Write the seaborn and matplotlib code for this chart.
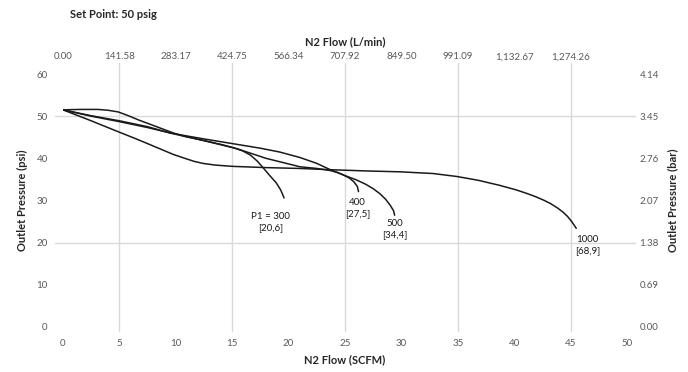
import pandas as pd
import matplotlib
matplotlib.use('Agg')
import matplotlib.pyplot as plt
import seaborn as sns

# DATA
flow_300 = [0, 1.5, 3.1, 4.0, 4.9, 5.8, 6.7, 7.8, 8.8, 9.8, 10.8, 12.0, 13.0, 14.0, 15.0,
            15.9, 16.6, 17.2, 17.7, 18.3, 18.9, 19.3, 19.6]
pres_300 = [51.5, 51.6, 51.6, 51.4, 51.0, 50.1, 49.1, 48.0, 47.0, 46.0, 45.2, 44.5, 43.9, 43.3, 42.6,
            41.8, 40.8, 39.4, 37.9, 36.0, 34.2, 32.5, 30.6]

flow_400 = [0, 2.5, 5, 7.5, 10, 12.5, 15.4, 18, 21, 22.5, 23.7, 24.4, 24.9, 25.4, 25.8, 26.1, 26.2]
pres_400 = [51.5, 50.0, 48.7, 47.3, 45.7, 44.2, 42.3, 40.0, 38.0, 37.6, 37.1, 36.6, 36.0, 35.3, 34.4,
            33.3, 32.1]

flow_500 = [0, 2.5, 5, 7.5, 9.5, 12.5, 15, 17.5, 19.2, 21, 22.5, 23.7, 25, 26.0, 26.8, 27.5,
            28.1, 28.6, 29.0, 29.3, 29.4]
pres_500 = [51.5, 50.1, 48.9, 47.5, 46.0, 44.6, 43.5, 42.4, 41.5, 40.2, 38.8, 37.3, 35.9, 34.9, 33.9,
            32.8, 31.6, 30.3, 28.9, 27.6, 26.5]

flow_1000 = [0, 2.5, 4.9, 6.5, 7.4, 8.2, 9.0, 9.8, 10.8, 11.6, 12.4, 13.5, 15, 18, 21, 23.7, 27,
             29.9, 32.8, 34.9, 36.8, 38.7, 40.2, 41.2, 41.9, 42.6, 43.2, 43.8, 44.3, 44.7, 45.1,
             45.5]
pres_1000 = [51.5, 48.9, 46.3, 44.6, 43.6, 42.7, 41.8, 40.9, 40.0, 39.3, 38.8, 38.4, 38.1, 37.8, 37.6,
             37.3, 37.0, 36.8, 36.4, 35.7, 34.8, 33.6, 32.5, 31.6, 30.9, 30.1, 29.3, 28.3, 27.3,
             26.3, 25.0, 23.4]

curve_names = ['300', '400', '500', '1000']
curve_labels = ['P1 = 300\n[20,6]', '400\n[27,5]', '500\n[34,4]', '1000\n[68,9]']
label_x = [18.4, 26.1, 29.4, 46.5]
label_y = [25.0, 28.2, 23.2, 19.4]

x_ticks = [0, 5, 10, 15, 20, 25, 30, 35, 40, 45, 50]
y_ticks = [0, 10, 20, 30, 40, 50, 60]
top_labels = ['0.00', '141.58', '283.17', '424.75', '566.34', '707.92', '849.50', '991.09',
              '1,132.67', '1,274.26']
right_labels = ['0.00', '0.69', '1.38', '2.07', '2.76', '3.45', '4.14']
v_grid = [5, 15, 25, 35, 45]
h_grid = [20, 50]

SCFM_TO_LPM = 28.3168
PSI_TO_BAR = 0.0689476

rows = []
for name, xs, ys in zip(curve_names,
                        [flow_300, flow_400, flow_500, flow_1000],
                        [pres_300, pres_400, pres_500, pres_1000]):
    for a, b in zip(xs, ys):
        rows.append({'curve': name, 'flow': a, 'pressure': b})
df = pd.DataFrame(rows)

# STYLE
sns.set_theme(style="white")
plt.rcParams['font.family'] = ['Lato', 'DejaVu Sans']
tick_color = '#595959'
grid_color = '#d9d9d9'
ink = '#1a1a1a'

fig = plt.figure(figsize=(6.88, 3.72), dpi=100)
ax = fig.add_axes([63 / 688, 1 - 327 / 372, 564 / 688, 253 / 372])

# gridlines (run a bit past the plot area like the Excel tick marks)
for gx in v_grid:
    ax.plot([gx, gx], [-1.0, 62.5], color=grid_color, lw=1, clip_on=False, zorder=0)
for gy in h_grid:
    ax.plot([-0.7, 50.7], [gy, gy], color=grid_color, lw=1, clip_on=False, zorder=0)

for name in curve_names:
    sub = df[df['curve'] == name]
    sns.lineplot(data=sub, x='flow', y='pressure', sort=False, estimator=None,
                 color=ink, lw=1.1, ax=ax)

for txt, tx, ty in zip(curve_labels, label_x, label_y):
    ax.text(tx, ty, txt, ha='center', va='center', fontsize=7, color=ink, linespacing=1.3)

ax.set_xlim(0, 50)
ax.set_ylim(0, 60)
ax.set_xticks(x_ticks)
ax.set_yticks(y_ticks)
ax.tick_params(axis='both', length=0, labelsize=7, colors=tick_color)
ax.tick_params(axis='x', pad=9)
ax.tick_params(axis='y', pad=11)
for s in ax.spines.values():
    s.set_visible(False)
ax.set_xlabel('N2 Flow (SCFM)', fontsize=8, fontweight='bold', color='#262626', labelpad=4)
ax.set_ylabel('Outlet Pressure (psi)', fontsize=8, fontweight='bold', color='#262626', labelpad=6)

# top axis in L/min
top = ax.secondary_xaxis('top', functions=(lambda v: v * SCFM_TO_LPM, lambda v: v / SCFM_TO_LPM))
top.set_ticks([v * SCFM_TO_LPM for v in x_ticks[:len(top_labels)]])
top.set_xticklabels(top_labels)
top.tick_params(length=0, labelsize=7, colors=tick_color, pad=9)
top.spines['top'].set_visible(False)
top.set_xlabel('N2 Flow (L/min)', fontsize=8, fontweight='bold', color='#262626', labelpad=5)

# right axis in bar
right = ax.secondary_yaxis('right', functions=(lambda v: v * PSI_TO_BAR, lambda v: v / PSI_TO_BAR))
right.set_ticks([v * PSI_TO_BAR for v in y_ticks])
right.set_yticklabels(right_labels)
right.tick_params(length=0, labelsize=7, colors=tick_color, pad=9)
right.spines['right'].set_visible(False)
right.set_ylabel('Outlet Pressure (bar)', fontsize=8, fontweight='bold', color='#262626', labelpad=6)

fig.text(70 / 688, 1 - 15 / 372, 'Set Point: 50 psig', fontsize=8, fontweight='bold',
         color='#262626', ha='left', va='center')

fig.savefig('out.png', dpi=100)
